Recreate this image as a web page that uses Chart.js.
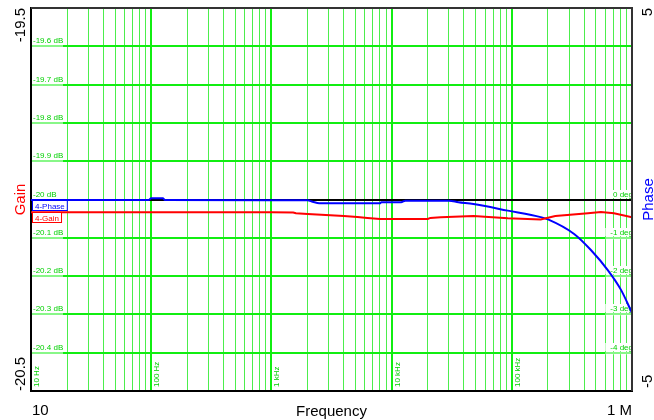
<!DOCTYPE html>
<html>
<head>
<meta charset="utf-8">
<script src="https://cdn.jsdelivr.net/npm/chart.js@4/dist/chart.umd.min.js"></script>
<style>
  html, body { margin: 0; padding: 0; background: #fff; }
  canvas { display: block; }
</style>
</head>
<body>
<canvas id="bode" width="654" height="420"></canvas>
<script>
// ─── data ───────────────────────────────────────────────────────
const GAIN_FREQ = [10, 100, 1000, 1520, 1600, 2000, 2600, 4000, 5200, 6300, 8000, 20000, 21000,
                   25600, 48000, 92600, 174000, 230000, 430000, 551000, 708000, 1000000]
const GAIN_DB   = [-20.033, -20.033, -20.033, -20.034, -20.036, -20.038, -20.040, -20.043, -20.046,
                   -20.048, -20.051, -20.051, -20.048, -20.0465, -20.043, -20.049, -20.052, -20.043,
                   -20.036, -20.0326, -20.036, -20.0465]

const PHASE_FREQ = [10, 95, 100, 125, 130, 1000, 2000, 2200, 2500, 8000, 8200, 12000, 13000, 30000,
                    36000, 48000, 92600, 174000, 200000, 330000, 455000, 631000, 810000, 1000000]
const PHASE_DEG  = [-0.013, -0.013, 0.03, 0.03, -0.013, -0.02, -0.02, -0.057, -0.1, -0.1, -0.073,
                    -0.073, -0.03, -0.03, -0.07, -0.12, -0.29, -0.46, -0.52, -0.9, -1.32, -1.85,
                    -2.36, -2.96]

// axis ranges / labels
const DECADES       = [10, 100, 1000, 10000, 100000, 1000000]
const DECADE_LABELS = ['10 Hz', '100 Hz', '1 kHz', '10 kHz', '100 kHz']
const GAIN_TICKS    = [-19.6, -19.7, -19.8, -19.9, -20, -20.1, -20.2, -20.3, -20.4]
const GAIN_LABELS   = ['-19.6 dB', '-19.7 dB', '-19.8 dB', '-19.9 dB', '-20 dB', '-20.1 dB', '-20.2 dB', '-20.3 dB', '-20.4 dB']
const PHASE_TICKS   = [0, -1, -2, -3, -4]
const PHASE_LABELS  = ['0 deg', '-1 deg', '-2 deg', '-3 deg', '-4 deg']

const GREEN  = '#11ee11'
const GREEN2 = '#4cee4c'
const FONT   = "'Liberation Sans', Arial, sans-serif"

const isDecade = v => DECADES.some(d => Math.abs(v - d) / d < 1e-6)

// ─── text, legend tags, frame ──────────────────────────────────
const overlay = {
  id: 'overlay',
  beforeDatasetsDraw(chart) {
    const { ctx, chartArea: a, scales: { x, y, y2 } } = chart
    ctx.save()
    ctx.font = '8px ' + FONT
    ctx.textBaseline = 'alphabetic'

    // gain labels inside, left
    GAIN_TICKS.forEach((v, i) => {
      const py = Math.round(y.getPixelForValue(v))
      if (v !== -20) {
        ctx.fillStyle = 'rgba(255,255,255,0.5)'
        ctx.fillRect(a.left + 1, py - 1.5, 31, 3)
      }
      ctx.fillStyle = '#00d000'
      ctx.textAlign = 'left'
      ctx.fillText(GAIN_LABELS[i], a.left + 2, py - 3)
    })

    // phase labels inside, right
    PHASE_TICKS.forEach((v, i) => {
      const py = Math.round(y2.getPixelForValue(v))
      const w = ctx.measureText(PHASE_LABELS[i]).width
      ctx.fillStyle = '#fff'
      ctx.fillRect(a.right - w - 4, py - 10, w + 4, 8)
      if (v !== 0) {
        ctx.fillStyle = 'rgba(255,255,255,0.5)'
        ctx.fillRect(a.right - w - 4, py - 1.5, w + 4, 3)
      }
      ctx.fillStyle = '#00d000'
      ctx.textAlign = 'right'
      ctx.fillText(PHASE_LABELS[i], a.right + 1, py - 3)
    })

    // decade labels, rotated
    DECADE_LABELS.forEach((t, i) => {
      const px = Math.round(x.getPixelForValue(DECADES[i]))
      ctx.save()
      ctx.translate(px + 8, a.bottom - 4)
      ctx.rotate(-Math.PI / 2)
      ctx.fillStyle = '#00d000'
      ctx.textAlign = 'left'
      ctx.fillText(t, 0, 0)
      ctx.restore()
    })
    ctx.restore()
  },
  afterDatasetsDraw(chart) {
    const { ctx, chartArea: a, scales: { y, y2 } } = chart
    ctx.save()

    // series tags at the start of each trace
    const tag = (text, color, py) => {
      ctx.font = '8px ' + FONT
      const w = ctx.measureText(text).width + 5
      ctx.fillStyle = '#fff'
      ctx.fillRect(a.left + 1.5, py + 0.5, w, 10)
      ctx.strokeStyle = color
      ctx.lineWidth = 1
      ctx.strokeRect(a.left + 1.5, py + 0.5, w, 10)
      ctx.fillStyle = color
      ctx.textAlign = 'left'
      ctx.fillText(text, a.left + 4, py + 8.5)
    }
    tag('4-Phase', '#0000ff', Math.round(y2.getPixelForValue(PHASE_DEG[0])))
    tag('4-Gain', '#ff0000', Math.round(y.getPixelForValue(GAIN_DB[0])))

    // top / right frame
    ctx.strokeStyle = '#333'
    ctx.lineWidth = 2
    ctx.beginPath()
    ctx.moveTo(a.left, a.top)
    ctx.lineTo(a.right, a.top)
    ctx.lineTo(a.right, a.bottom)
    ctx.stroke()

    // outside axis text
    ctx.font = '15px ' + FONT
    ctx.fillStyle = '#000'
    ctx.textBaseline = 'alphabetic'
    ctx.textAlign = 'left'
    ctx.fillText('10', a.left + 1, a.bottom + 24)
    ctx.textAlign = 'right'
    ctx.fillText('1 M', a.right, a.bottom + 24)
    ctx.textAlign = 'center'
    ctx.fillText('Frequency', (a.left + a.right) / 2, a.bottom + 25)

    const vtext = (t, px, py, align, color) => {
      ctx.save()
      ctx.translate(px, py)
      ctx.rotate(-Math.PI / 2)
      ctx.textAlign = align
      ctx.fillStyle = color
      ctx.fillText(t, 0, 0)
      ctx.restore()
    }
    const mid = (a.top + a.bottom) / 2
    vtext('-19.5', 25, a.top, 'right', '#000')
    vtext('-20.5', 25, a.bottom, 'left', '#000')
    vtext('Gain', 25, mid, 'center', '#ff0000')
    vtext('5', 652, a.top, 'right', '#000')
    vtext('-5', 652, a.bottom - 3, 'left', '#000')
    vtext('Phase', 653, mid, 'center', '#0000ff')
    ctx.restore()
  }
}

new Chart(document.getElementById('bode'), {
  type: 'line',
  data: {
    datasets: [
      {
        label: '4-Gain',
        data: GAIN_FREQ.map((f, i) => ({ x: f, y: GAIN_DB[i] })),
        yAxisID: 'y',
        borderColor: '#ff0000', borderWidth: 2,
        pointRadius: 0, tension: 0, fill: false,
      },
      {
        label: '4-Phase',
        data: PHASE_FREQ.map((f, i) => ({ x: f, y: PHASE_DEG[i] })),
        yAxisID: 'y2',
        borderColor: '#0000ff', borderWidth: 2,
        pointRadius: 0, cubicInterpolationMode: 'monotone', fill: false,
      }
    ]
  },
  options: {
    responsive: false, animation: false, devicePixelRatio: 1,
    layout: { padding: { left: 31, right: 22, top: 8, bottom: 29 } },
    plugins: { legend: { display: false }, tooltip: { enabled: false } },
    scales: {
      x: {
        type: 'logarithmic', min: 10, max: 1000000,
        afterBuildTicks: s => {
          const t = []
          DECADES.slice(0, -1).forEach(d => { for (let k = 1; k < 10; k++) t.push({ value: d * k }) })
          t.push({ value: 1000000 })
          s.ticks = t
        },
        ticks: { display: false },
        grid: {
          drawTicks: false,
          color: c => isDecade(c.tick.value) ? GREEN : GREEN2,
          lineWidth: c => isDecade(c.tick.value) ? 2 : 1,
        },
        border: { color: '#000', width: 2 },
      },
      y: {
        type: 'linear', position: 'left', min: -20.5, max: -19.5,
        ticks: { display: false, stepSize: 0.1 },
        grid: {
          drawTicks: false,
          color: c => Math.abs(c.tick.value + 20) < 1e-6 ? '#000' : GREEN,
          lineWidth: 2,
        },
        border: { color: '#000', width: 2 },
      },
      y2: {
        type: 'linear', position: 'right', min: -5, max: 5, display: false,
      }
    }
  },
  plugins: [overlay]
})
</script>
</body>
</html>
